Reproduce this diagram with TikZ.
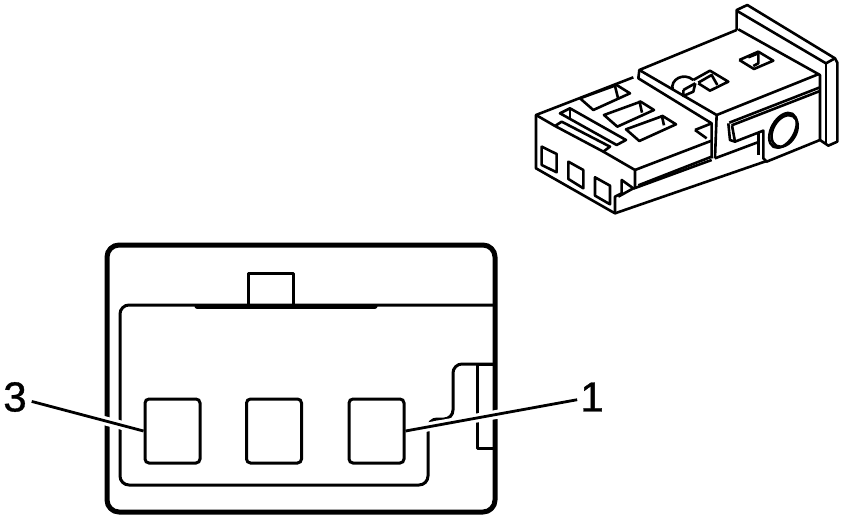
\documentclass[tikz,border=0pt]{standalone}
\usepackage{fontspec}
\setmainfont{Liberation Sans}
\newfontfamily\labelfont[FakeBold=0.8]{Liberation Sans}
\tikzset{
  thin line/.style = {line width = 2.6pt, line join = round},
  frame line/.style = {line width = 3pt, line join = round},
  heavy line/.style = {line width = 5pt, line join = round},
  pinbox/.style = {draw, line width = 3pt, rounded corners = 4pt, minimum width = 55pt, minimum height = 64pt, inner sep = 0pt},
  pinlabel/.style = {font = \fontsize{42}{42}\labelfont, inner sep = 0pt},
  halo/.style = {draw = white, line width = 9pt},
  leader/.style = {line width = 2.8pt},
}
\begin{document}
\begin{tikzpicture}[x = 1pt, y = -1pt]
\useasboundingbox (0,0) rectangle (864,520);
\draw [heavy line, rounded corners = 12pt] (107,245) rectangle (495,512);
% inner outline of the housing
\draw [frame line, rounded corners = 9pt] (495,305) -- (120,305) -- (120,485) -- (428,485) -- (428,419) -- (453,419) -- (453,364) -- (495,364);
\draw [heavy line, line cap = round] (197,306) -- (375,306);
\draw [frame line] (248,305) -- (248,273) -- (293,273) -- (293,305);
\draw [frame line] (495,364) -- (477,364) -- (477,448) -- (495,448);
\foreach \n/\x in {3/172.5,2/274,1/376.5} \node [pinbox] (pin\n) at (\x,431){};
\node [pinlabel] (lab3) at (15,397){3};
\node [pinlabel] (lab1) at (592,397){1};
\coordinate (end3) at (pin3.west);
\coordinate (end1) at (pin1.east);
% white gaps where the leaders cross the frame
\path [halo, shorten <= 40pt, shorten >= 4pt] (lab3) -- (end3);
\path [halo, shorten <= 40pt, shorten >= 4pt] (lab1) -- (end1);
\draw [leader, shorten <= 5pt] (lab3) -- (end3);
\draw [leader, shorten <= 3pt] (lab1) -- (end1);
\begin{scope}[shift = {(520,0)}, x = 0.3333pt, y = -0.3333pt]
% flange
\draw [thin line] (650,90) -- (650,30) -- (682,15) -- (945,175) -- (952,188) -- (952,425) -- (925,437) -- (900,420);
\draw [thin line] (650,32) -- (918,190) -- (945,175);
\draw [thin line] (918,190) -- (918,432);
\draw [thin line] (655,88) -- (900,225) -- (900,420);
% rear block
\draw [thin line] (650,90) -- (358,210) -- (590,345) -- (897,222);
\draw [thin line] (358,210) -- (355,235) -- (575,370) -- (575,475);
\draw [thin line] (590,345) -- (585,475);
\draw [thin line] (458,268) .. controls (450,240) and (490,215) .. (520,240);
\draw [thin line] (490,270) -- (490,288) -- (520,275) -- (526,250);
\draw [thin line] (490,270) -- (526,250);
\draw [thin line] (520,240) -- (570,212) -- (625,245) -- (570,272) -- (535,250);
\draw [thin line] (535,248) -- (575,225) -- (592,255);
\draw [thin line] (658,180) -- (715,155) -- (760,182) -- (702,207) -- (658,180);
\draw [thin line] (685,172) -- (715,160) -- (715,190) -- (700,198);
% slot and round boss
\draw [thin line] (628,368) -- (900,262);
\draw [thin line] (635,376) -- (900,273);
\draw [thin line] (625,370) -- (630,420) -- (645,425) -- (730,392) -- (730,475) -- (740,485) -- (900,420);
\draw [thin line] (636,376) -- (645,425);
\draw [thin line] (716,398) -- (716,465);
\draw [thin line, shift = {(789,391)}, rotate = -30] (0,0) ellipse [x radius = 11.5pt, y radius = 19pt];
\draw [thin line, shift = {(794,393)}, rotate = -30] (0,0) ellipse [x radius = 11.5pt, y radius = 17pt];
% plug body
\draw [thin line] (340,232) -- (48,345) -- (48,505) -- (285,640) -- (740,483);
\draw [thin line] (48,345) -- (105,378);
\draw [thin line] (250,455) -- (345,510) -- (345,562);
\draw [thin line] (345,510) -- (575,422);
\draw [thin line] (355,556) -- (575,470);
\draw [thin line] (340,566) -- (575,480);
\draw [thin line] (585,475) -- (716,426);
\draw [thin line] (285,640) -- (285,590) -- (305,580) -- (305,540) -- (340,565) -- (295,590);
\draw [thin line] (525,390) -- (575,370);
\draw [thin line] (525,390) -- (560,415);
% latch and windows on top
\draw [thin line] (120,340) -- (150,325) -- (318,420) -- (290,435) -- cycle;
\draw [thin line] (150,325) -- (150,355);
\draw [thin line] (105,378) -- (125,365) -- (270,440) -- (250,455) -- cycle;
\foreach \a/\b in {180/295,252/345,318/388} \draw [thin line] (\a,\b) -- (\a+110,\b-40) -- (\a+150,\b-15) -- (\a+40,\b+35) -- cycle;
\draw [thin line] (285,258) -- (295,298);
\draw [thin line] (358,302) -- (366,338);
\draw [thin line] (425,345) -- (432,376);
% cavities in the front face
\draw [thin line] (65,440) -- (110,462) -- (110,517) -- (65,495) -- cycle;
\draw [thin line] (145,485) -- (190,510) -- (190,565) -- (145,537) -- cycle;
\draw [thin line] (225,532) -- (270,557) -- (270,613) -- (225,587) -- cycle;
\end{scope}
\end{tikzpicture}
\end{document}
